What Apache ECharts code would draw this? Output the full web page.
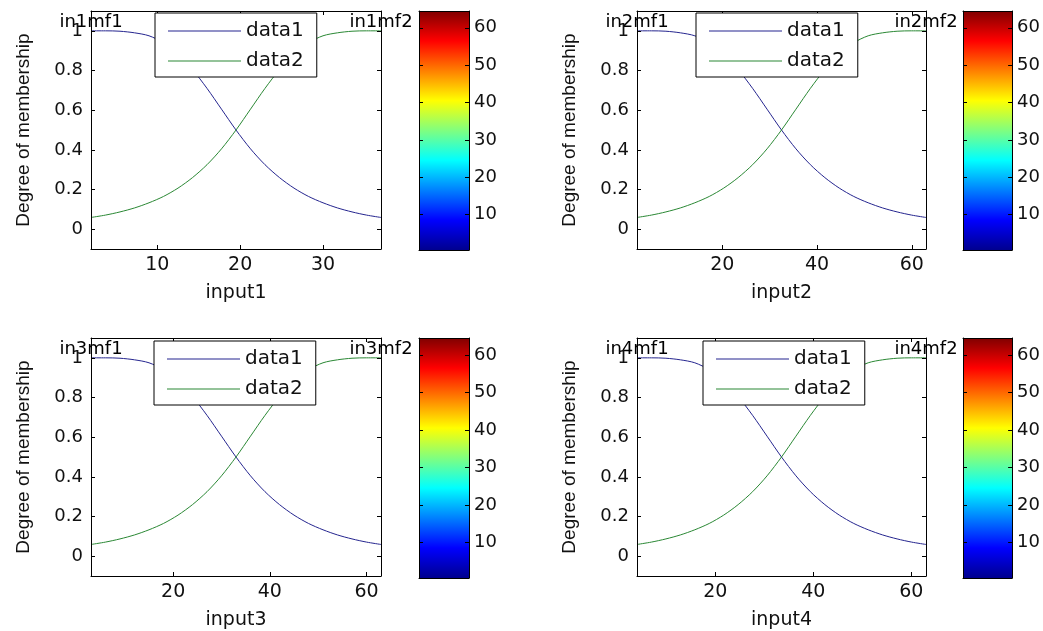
<!DOCTYPE html>
<html>
<head>
<meta charset="utf-8">
<script src="https://cdn.jsdelivr.net/npm/echarts@6/dist/echarts.min.js"></script>
<style>
html,body{margin:0;padding:0;background:#fff;}
#chart{width:1043px;height:631px;}
</style>
</head>
<body>
<div id="chart"></div>
<script>
// ---------------- data ----------------
const inputNames = ['input1', 'input2', 'input3', 'input4'];
const mfLabels = [['in1mf1', 'in1mf2'], ['in2mf1', 'in2mf2'], ['in3mf1', 'in3mf2'], ['in4mf1', 'in4mf2']];
const seriesNames = ['data1', 'data2'];
const xRanges = [[2, 37], [2, 63], [3, 63], [4, 63]];
const xTicks = [[10, 20, 30], [20, 40, 60], [20, 40, 60], [20, 40, 60]];
const yRange = [-0.1, 1.1];
const yTicks = [0, 0.2, 0.4, 0.6, 0.8, 1];
const colorbarRange = [0.5, 64.5];
const colorbarTicks = [10, 20, 30, 40, 50, 60];

const in1x = [2, 3.75, 5.5, 7.25, 9, 10.75, 12.5, 14.25, 16, 17.75, 19.5, 21.25, 23, 24.75, 26.5, 28.25, 30, 31.75, 33.5, 35.25, 37];
const in2x = [2, 5.05, 8.1, 11.15, 14.2, 17.25, 20.3, 23.35, 26.4, 29.45, 32.5, 35.55, 38.6, 41.65, 44.7, 47.75, 50.8, 53.85, 56.9, 59.95, 63];
const in3x = [3, 6, 9, 12, 15, 18, 21, 24, 27, 30, 33, 36, 39, 42, 45, 48, 51, 54, 57, 60, 63];
const in4x = [4, 6.95, 9.9, 12.85, 15.8, 18.75, 21.7, 24.65, 27.6, 30.55, 33.5, 36.45, 39.4, 42.35, 45.3, 48.25, 51.2, 54.15, 57.1, 60.05, 63];
const inputX = [in1x, in2x, in3x, in4x];

// membership values (same shape in every panel)
const mf1Values = [1.00, 1.00, 0.998, 0.99, 0.975, 0.94, 0.885, 0.805, 0.71, 0.605, 0.50, 0.405, 0.325, 0.26, 0.207, 0.165, 0.133, 0.107, 0.087, 0.071, 0.059];
const mf2Values = [0.059, 0.071, 0.087, 0.107, 0.133, 0.165, 0.207, 0.26, 0.325, 0.405, 0.50, 0.605, 0.71, 0.805, 0.885, 0.94, 0.975, 0.99, 0.998, 1.00, 1.00];

// ---------------- layout / style ----------------
const layout = [
  { grid: { left: 91, top: 11, width: 290, height: 238 }, cbar: { left: 419, top: 11, width: 50, height: 239 }, legend: { left: 155, top: 13 } },
  { grid: { left: 637, top: 11, width: 289, height: 238 }, cbar: { left: 963, top: 11, width: 50, height: 239 }, legend: { left: 696, top: 13 } },
  { grid: { left: 91, top: 338, width: 290, height: 239 }, cbar: { left: 419, top: 338, width: 50, height: 240 }, legend: { left: 154, top: 341 } },
  { grid: { left: 637, top: 338, width: 289, height: 239 }, cbar: { left: 963, top: 338, width: 50, height: 240 }, legend: { left: 703, top: 341 } }
];
const lineColors = ['#25258f', '#2a8834'];
const txt = '#000';
const font = 'DejaVu Sans';

const grids = [], xAxes = [], yAxes = [], series = [], legends = [];

function frameAxis(common, extra) { return Object.assign({}, common, extra); }

layout.forEach((L) => { grids.push(Object.assign({ containLabel: false }, L.grid)); });
layout.forEach((L) => { grids.push(Object.assign({ containLabel: false }, L.cbar)); });

for (let i = 0; i < 4; i++) {
  const xBase = {
    type: 'value', gridIndex: i, min: xRanges[i][0], max: xRanges[i][1],
    splitLine: { show: false },
    axisLine: { show: true, onZero: false, lineStyle: { color: '#000', width: 1 } },
    axisTick: { show: true, inside: true, length: 4, customValues: xTicks[i], lineStyle: { color: '#000' } },
    z: 5
  };
  xAxes.push(frameAxis(xBase, {
    position: 'bottom',
    name: inputNames[i], nameLocation: 'middle', nameGap: 35,
    nameTextStyle: { fontFamily: font, fontSize: 19, color: '#111' },
    axisLabel: { show: true, customValues: xTicks[i], margin: 7, fontFamily: font, fontSize: 19, color: '#111' }
  }));
  xAxes.push(frameAxis(xBase, { position: 'top', axisLabel: { show: false } }));

  const yBase = {
    type: 'value', gridIndex: i, min: yRange[0], max: yRange[1],
    splitLine: { show: false },
    axisLine: { show: true, onZero: false, lineStyle: { color: '#000', width: 1 } },
    axisTick: { show: true, inside: true, length: 4, customValues: yTicks, lineStyle: { color: '#000' } },
    z: 5
  };
  yAxes.push(frameAxis(yBase, {
    position: 'left',
    name: 'Degree of membership', nameLocation: 'middle', nameGap: 58, nameRotate: 90,
    nameTextStyle: { fontFamily: 'Liberation Sans', fontSize: 19, color: '#111' },
    axisLabel: { show: true, customValues: yTicks, margin: 8, fontFamily: font, fontSize: 18, color: '#111' }
  }));
  yAxes.push(frameAxis(yBase, { position: 'right', axisLabel: { show: false } }));

  const xi = 2 * i, yi = 2 * i;
  const mfSets = [mf1Values, mf2Values];
  for (let s = 0; s < 2; s++) {
    series.push({
      type: 'line', name: seriesNames[s], xAxisIndex: xi, yAxisIndex: yi,
      data: inputX[i].map((x, k) => [x, mfSets[s][k]]),
      showSymbol: false, symbol: 'none', smooth: 0.3,
      lineStyle: { color: lineColors[s], width: 1 },
      itemStyle: { color: lineColors[s] },
      z: 2
    });
  }
  series.push({
    type: 'scatter', name: 'mflabels' + i, xAxisIndex: xi, yAxisIndex: yi,
    symbolSize: 0, silent: true, clip: false,
    itemStyle: { color: '#000', opacity: 1 },
    data: [[xRanges[i][0], 1, mfLabels[i][0]], [xRanges[i][1], 1, mfLabels[i][1]]],
    label: {
      show: true, position: 'top', distance: 0,
      formatter: p => p.value[2],
      fontFamily: font, fontSize: 18, color: txt, opacity: 1,
      textBorderWidth: 0
    },
    z: 3
  });

  legends.push({
    show: true, data: seriesNames, orient: 'vertical',
    left: layout[i].legend.left, top: layout[i].legend.top,
    backgroundColor: '#fff', borderColor: '#000', borderWidth: 1,
    padding: [8, 13, 6, 13], itemGap: 10, itemWidth: 73, itemHeight: 1,
    icon: 'rect', selectedMode: false,
    textStyle: { fontFamily: font, fontSize: 20, color: '#111', lineHeight: 20 },
    z: 6
  });
}

// colorbars
for (let i = 0; i < 4; i++) {
  const g = 4 + i;
  xAxes.push({
    type: 'category', gridIndex: g, data: ['c'], position: 'bottom',
    axisLine: { show: true, lineStyle: { color: '#000' } },
    axisTick: { show: false }, axisLabel: { show: false }, z: 5
  });
  xAxes.push({
    type: 'category', gridIndex: g, data: ['c'], position: 'top',
    axisLine: { show: true, lineStyle: { color: '#000' } },
    axisTick: { show: false }, axisLabel: { show: false }, z: 5
  });
  yAxes.push({
    type: 'value', gridIndex: g, min: colorbarRange[0], max: colorbarRange[1], position: 'right',
    splitLine: { show: false },
    axisLine: { show: true, lineStyle: { color: '#000' } },
    axisTick: { show: true, inside: true, length: 4, customValues: colorbarTicks, lineStyle: { color: '#000' } },
    axisLabel: { show: true, customValues: colorbarTicks, margin: 5, fontFamily: font, fontSize: 18, color: '#111' },
    z: 5
  });
  yAxes.push({
    type: 'value', gridIndex: g, min: colorbarRange[0], max: colorbarRange[1], position: 'left',
    splitLine: { show: false },
    axisLine: { show: true, lineStyle: { color: '#000' } },
    axisTick: { show: true, inside: true, length: 4, customValues: colorbarTicks, lineStyle: { color: '#000' } },
    axisLabel: { show: false },
    z: 5
  });
  series.push({
    type: 'bar', name: 'colorbar' + i, xAxisIndex: 8 + 2 * i, yAxisIndex: 8 + 2 * i,
    data: [colorbarRange[1]], barWidth: '100%', silent: true,
    itemStyle: {
      color: new echarts.graphic.LinearGradient(0, 1, 0, 0, [
        { offset: 0, color: '#00008f' },
        { offset: 0.125, color: '#0000ff' },
        { offset: 0.375, color: '#00ffff' },
        { offset: 0.625, color: '#ffff00' },
        { offset: 0.875, color: '#ff0000' },
        { offset: 1, color: '#800000' }
      ])
    },
    z: 2
  });
}

const chart = echarts.init(document.getElementById('chart'));
chart.setOption({
  backgroundColor: '#fff',
  animation: false,
  grid: grids,
  xAxis: xAxes,
  yAxis: yAxes,
  legend: legends,
  series: series
});
</script>
</body>
</html>
